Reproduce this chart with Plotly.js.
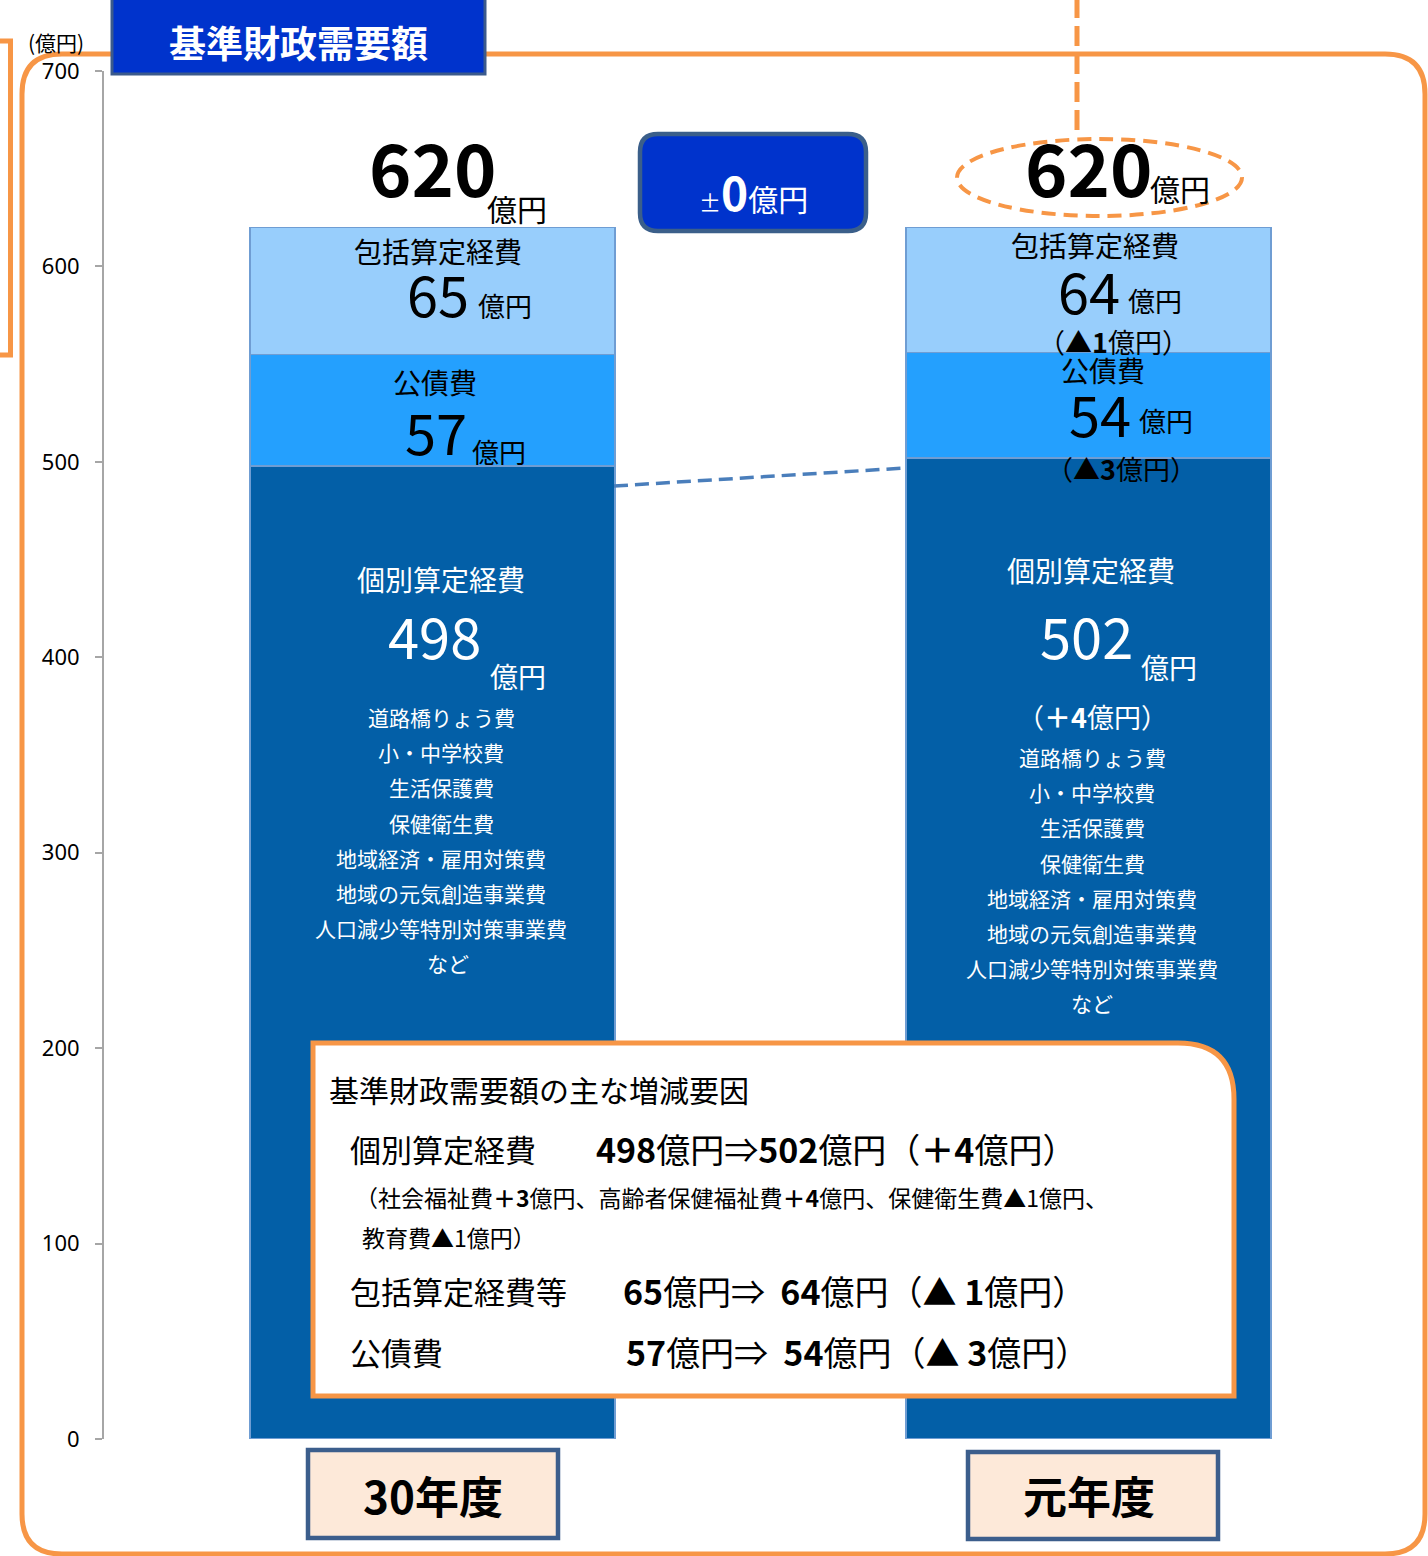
<!DOCTYPE html>
<html><head><meta charset="utf-8">
<script src="https://cdn.plot.ly/plotly-3.0.1.min.js"></script>
<style>html,body{margin:0;padding:0;background:#fff;}#chart{width:1428px;height:1556px;}</style>
</head><body><div id="chart"></div>
<script>
// ---- data ----
const years = ['30年度', '元年度'];
const kobetsu = [498, 502];   // 個別算定経費
const kosai = [57, 54];       // 公債費
const hokatsu = [65, 64];     // 包括算定経費
const yTicks = [0, 100, 200, 300, 400, 500, 600, 700];
const kobetsuItems = ['道路橋りょう費', '小・中学校費', '生活保護費', '保健衛生費', '地域経済・雇用対策費', '地域の元気創造事業費', '人口減少等特別対策事業費', 'など'];
const breakdownNote = ['（社会福祉費<b>＋3</b>億円、高齢者保健福祉費<b>＋4</b>億円、保健衛生費▲1億円、', '教育費▲1億円）'];

// ---- geometry helpers (pixels -> paper) ----
const W = 1428, H = 1556, L = 104, R = 12, T = 71, B = 117;
const PW = W - L - R, PH = H - T - B;
const X = px => (px - L) / PW;
const Y = py => (H - B - py) / PH;
const FONT = '"Noto Sans CJK JP", "Noto Sans", sans-serif';
const ORANGE = '#F79646';
const NB = '\u00A0';

const totals = years.map((_, i) => kobetsu[i] + kosai[i] + hokatsu[i]);
const fmtDiff = d => d > 0 ? '＋' + d : (d < 0 ? '▲' + (-d) : '±0');
const dKob = kobetsu[1] - kobetsu[0], dKos = kosai[1] - kosai[0], dHok = hokatsu[1] - hokatsu[0], dTot = totals[1] - totals[0];

// ---- traces ----
const lineStyle = {color: '#6F9DD3', width: 1.5};
const common = {type: 'bar', x: years, width: 0.556, hoverinfo: 'skip', showlegend: false};
const traces = [
  Object.assign({}, common, {name: '個別算定経費', y: kobetsu, marker: {color: '#035FA7', line: lineStyle}}),
  Object.assign({}, common, {name: '公債費', y: kosai, marker: {color: '#24A0FE', line: lineStyle}}),
  Object.assign({}, common, {name: '包括算定経費', y: hokatsu, marker: {color: '#98CEFC', line: lineStyle}})
];

// ---- shapes ----
function rr(x0, y0, x1, y1, r, cs) { // cs: [tl,tr,br,bl]
  const c = cs || [1,1,1,1];
  const p = [];
  const tl = c[0] ? r : 0, tr = c[1] ? r : 0, br = c[2] ? r : 0, bl = c[3] ? r : 0;
  p.push(`M${X(x0 + tl)},${Y(y0)}`);
  p.push(`L${X(x1 - tr)},${Y(y0)}`);
  if (tr) p.push(`Q${X(x1)},${Y(y0)} ${X(x1)},${Y(y0 + tr)}`);
  p.push(`L${X(x1)},${Y(y1 - br)}`);
  if (br) p.push(`Q${X(x1)},${Y(y1)} ${X(x1 - br)},${Y(y1)}`);
  p.push(`L${X(x0 + bl)},${Y(y1)}`);
  if (bl) p.push(`Q${X(x0)},${Y(y1)} ${X(x0)},${Y(y1 - bl)}`);
  p.push(`L${X(x0)},${Y(y0 + tl)}`);
  if (tl) p.push(`Q${X(x0)},${Y(y0)} ${X(x0 + tl)},${Y(y0)}`);
  p.push('Z');
  return p.join(' ');
}
const P = {xref: 'paper', yref: 'paper', layer: 'above'};
const shapes = [
  Object.assign({}, P, {type: 'path', path: rr(22, 54, 1425, 1554, 40), line: {color: ORANGE, width: 5}, fillcolor: 'rgba(0,0,0,0)'}),
  Object.assign({}, P, {type: 'path', path: `M${X(-6)},${Y(41)} L${X(10.5)},${Y(41)} L${X(10.5)},${Y(355)} L${X(-6)},${Y(355)}`, line: {color: ORANGE, width: 5}}),
  Object.assign({}, P, {type: 'line', x0: X(1077), x1: X(1077), y0: Y(-2), y1: Y(138), line: {color: ORANGE, width: 5, dash: '20px,8px'}}),
  Object.assign({}, P, {type: 'circle', x0: X(957), x1: X(1242), y0: Y(139), y1: Y(216), line: {color: ORANGE, width: 4, dash: '14px,8px'}}),
  Object.assign({}, P, {type: 'line', x0: X(614), x1: X(905), y0: Y(486), y1: Y(468), line: {color: '#4A7EBB', width: 3.5, dash: '14px,7px'}}),
  Object.assign({}, P, {type: 'rect', x0: X(112), x1: X(485), y0: Y(-3), y1: Y(74), fillcolor: '#0033CC', line: {color: '#3B5A8C', width: 3}}),
  Object.assign({}, P, {type: 'path', path: rr(640, 134, 866, 231, 18), fillcolor: '#0033CC', line: {color: '#3B5F8A', width: 4.5}}),
  Object.assign({}, P, {type: 'path', path: rr(313, 1043, 1234, 1396, 56, [0,1,0,0]), fillcolor: '#FFFFFF', line: {color: ORANGE, width: 5}}),
  Object.assign({}, P, {type: 'rect', x0: X(308), x1: X(558), y0: Y(1450), y1: Y(1538), fillcolor: '#FDE9D9', line: {color: '#3C5E8C', width: 4.5}}),
  Object.assign({}, P, {type: 'rect', x0: X(968), x1: X(1218), y0: Y(1452), y1: Y(1539), fillcolor: '#FDE9D9', line: {color: '#3C5E8C', width: 4.5}})
];

// ---- annotations ----
function A(text, x, y, size, opt) {
  opt = opt || {};
  return {xref: 'paper', yref: 'paper', x: X(x), y: Y(y), text: text, showarrow: false,
    font: {family: FONT, size: size, color: opt.color || '#000'},
    xanchor: opt.xa || 'center', yanchor: 'middle', align: opt.xa || 'center'};
}
const WH = {color: '#FFFFFF'};
const ann = [];
ann.push(A('(億円)', 56, 42, 21));
ann.push(A('<b>基準財政需要額</b>', 298, 42, 37, WH));
ann.push(A(`<span style="font-size:22px">±</span><b>${Math.abs(dTot)}</b><span style="font-size:30px">億円</span>`, 753, 191, 46, WH));
// totals
ann.push(A(`<b>${totals[0]}</b>`, 433, 166, 72));
ann.push(A('億円', 517, 208, 30));
ann.push(A(`<b>${totals[1]}</b>`, 1088, 166, 72));
ann.push(A('億円', 1180, 188, 30));
// left bar
ann.push(A('包括算定経費', 438, 251, 28));
ann.push(A(`${hokatsu[0]}`, 438, 293, 56));
ann.push(A('億円', 505, 305, 27));
ann.push(A('公債費', 435, 382, 28));
ann.push(A(`${kosai[0]}`, 436, 430, 56));
ann.push(A('億円', 499, 451, 27));
ann.push(A('個別算定経費', 441, 579, 28, WH));
ann.push(A(`${kobetsu[0]}`, 435, 635, 56, WH));
ann.push(A('億円', 518, 676, 28, WH));
kobetsuItems.forEach((t, k) => ann.push(A(t, t === 'など' ? 448 : 441, 717 + 35.2 * k, 21, WH)));
// right bar
ann.push(A('包括算定経費', 1095, 245, 28));
ann.push(A(`${hokatsu[1]}`, 1089, 289, 56));
ann.push(A('億円', 1155, 300, 27));
ann.push(A(`（<b>${fmtDiff(dHok)}</b>億円）`, 1113, 342, 27));
ann.push(A('公債費', 1103, 370, 28));
ann.push(A(`${kosai[1]}`, 1100, 412, 56));
ann.push(A('億円', 1166, 420, 27));
ann.push(A(`（<b>${fmtDiff(dKos)}</b>億円）`, 1121, 468, 27));
ann.push(A('個別算定経費', 1091, 570, 28, WH));
ann.push(A(`${kobetsu[1]}`, 1086, 634, 56, WH));
ann.push(A('億円', 1169, 667, 28, WH));
ann.push(A(`（<b>${fmtDiff(dKob)}</b>億円）`, 1092, 716, 27, WH));
kobetsuItems.forEach((t, k) => ann.push(A(t, 1092, 757 + 35.2 * k, 21, WH)));
// summary box
const LA = {xa: 'left'};
const sp = s => s.replace('▲', '▲' + NB);
ann.push(A('基準財政需要額の主な増減要因', 327, 1089, 30, LA));
ann.push(A('個別算定経費', 348, 1148, 31, LA));
ann.push(A(`<b>${kobetsu[0]}</b>億円⇒<b>${kobetsu[1]}</b>億円（<b>${fmtDiff(dKob)}</b>億円）`, 594, 1148, 34, LA));
ann.push(A(breakdownNote[0], 353, 1197, 23, LA));
ann.push(A(breakdownNote[1], 360, 1237, 23, LA));
ann.push(A('包括算定経費等', 348, 1290, 31, LA));
ann.push(A(`<b>${hokatsu[0]}</b>億円⇒${NB}${NB}<b>${hokatsu[1]}</b>億円（<b>${sp(fmtDiff(dHok))}</b>億円）`, 621, 1290, 34, LA));
ann.push(A('公債費', 348, 1351, 31, LA));
ann.push(A(`<b>${kosai[0]}</b>億円⇒${NB}${NB}<b>${kosai[1]}</b>億円（<b>${sp(fmtDiff(dKos))}</b>億円）`, 624, 1351, 34, LA));
// category boxes
years.forEach((yr, i) => ann.push({xref: 'x', yref: 'paper', x: yr, y: Y(1495), text: `<b>${yr}</b>`, showarrow: false,
  font: {family: FONT, size: 44, color: '#000'}, xanchor: 'center', yanchor: 'middle'}));

const layout = {
  width: W, height: H,
  margin: {l: L, r: R, t: T, b: B},
  paper_bgcolor: '#FFFFFF', plot_bgcolor: '#FFFFFF',
  barmode: 'stack', showlegend: false,
  font: {family: FONT},
  xaxis: {type: 'category', range: [(L - 432.5) / 656, (L - 432.5) / 656 + PW / 656], showticklabels: false,
    showline: false, showgrid: false, zeroline: false, ticks: ''},
  yaxis: {range: [0, 700], tickvals: yTicks, ticktext: yTicks.map(String), showline: true, linecolor: '#A6A6A6', linewidth: 2,
    ticks: 'outside', ticklen: 7, tickwidth: 2, tickcolor: '#A6A6A6', showgrid: false, zeroline: false,
    tickfont: {family: '"Noto Sans", sans-serif', size: 22, color: '#000'}, ticklabelstandoff: 11},
  shapes: shapes,
  annotations: ann
};
Plotly.newPlot('chart', traces, layout, {displayModeBar: false, staticPlot: true});
</script>
</body></html>
